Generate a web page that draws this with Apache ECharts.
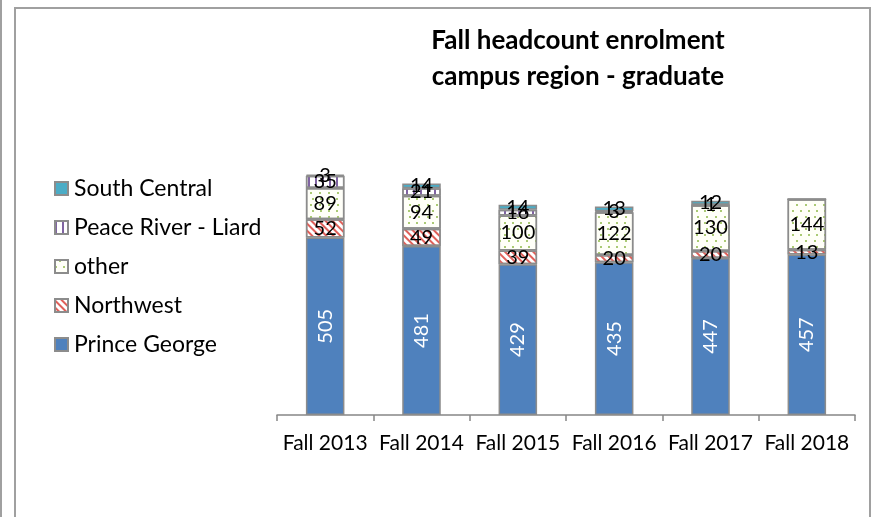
<!DOCTYPE html>
<html>
<head>
<meta charset="utf-8">
<script src="https://cdn.jsdelivr.net/npm/echarts@6/dist/echarts.min.js"></script>
<style>html,body{margin:0;padding:0;background:#fff}#c{width:872px;height:517px}</style>
</head>
<body>
<div id="c"></div>
<script>
var categories = ['Fall 2013','Fall 2014','Fall 2015','Fall 2016','Fall 2017','Fall 2018'];
var princeGeorge = [505, 481, 429, 435, 447, 457];
var northwest = [52, 49, 39, 20, 20, 13];
var other = [89, 94, 100, 122, 130, 144];
var peaceRiver = [35, 21, 16, 3, 1, 0];
var southCentral = [3, 14, 14, 13, 12, 0];
var legendOrder = ['South Central','Peace River - Liard','other','Northwest','Prince George'];

var FONT = 'Lato';
var border = {borderColor:'#8c8c8c', borderWidth:1.5};
function lbl(color, rot){
  return {show:true, position:'inside', color:color, fontSize:20, fontFamily:FONT, rotate:rot||0,
    formatter:function(p){return p.value ? String(p.value) : '';}};
}
function ser(name, data, style, label){
  return {name:name, type:'bar', stack:'s', data:data, barWidth:'40%',
    itemStyle:Object.assign({}, border, style), label:label, emphasis:{disabled:true}};
}
var chart = echarts.init(document.getElementById('c'));
chart.setOption({
  animation:false,
  textStyle:{fontFamily:FONT},
  title:{text:'Fall headcount enrolment\ncampus region - graduate', left:573, top:18, textAlign:'center',
    textStyle:{fontSize:26, fontWeight:'bold', color:'#000', fontFamily:FONT, lineHeight:36}},
  legend:{orient:'vertical', left:49, top:172, itemWidth:13, itemHeight:13, itemGap:16, icon:'rect',
    data:legendOrder, textStyle:{fontSize:23, color:'#000', fontFamily:FONT, padding:[0,0,0,1]}},
  grid:{left:277, right:17, top:169, bottom:102},
  xAxis:{type:'category', data:categories,
    axisLine:{lineStyle:{color:'#868686', width:1.5}},
    axisTick:{show:true, length:6, lineStyle:{color:'#868686', width:1.5}},
    axisLabel:{fontSize:21, color:'#000', margin:18, fontFamily:FONT, interval:0}},
  yAxis:{type:'value', min:0, max:700, show:false, splitLine:{show:false}},
  series:[
    ser('Prince George', princeGeorge, {color:'#4F81BD'}, lbl('#fff', 90)),
    ser('Northwest', northwest, {color:'#fff', decal:{symbol:'rect', color:'#e0605a', dashArrayX:[1,0], dashArrayY:[2,3], rotation:Math.PI/4}}, lbl('#000')),
    ser('other', other, {color:'#fffff8', decal:{symbol:'circle', color:'#8fb84a', symbolSize:1, dashArrayX:[[1.8,6],[0,3.9,1.8,2.1]], dashArrayY:[1.8,4]}}, lbl('#000')),
    ser('Peace River - Liard', peaceRiver, {color:'#fff', decal:{symbol:'rect', color:'#8064a2', dashArrayX:[2,5], dashArrayY:[1,0]}}, lbl('#000')),
    ser('South Central', southCentral, {color:'#4BACC6'}, lbl('#000'))
  ],
  graphic:[
    {type:'line', shape:{x1:1, y1:0, x2:1, y2:517}, style:{stroke:'#a0a0a0', lineWidth:2}, silent:true},
    {type:'rect', shape:{x:15, y:8, width:855, height:520}, style:{fill:null, stroke:'#a0a0a0', lineWidth:2}, silent:true}
  ]
});
</script>
</body>
</html>
